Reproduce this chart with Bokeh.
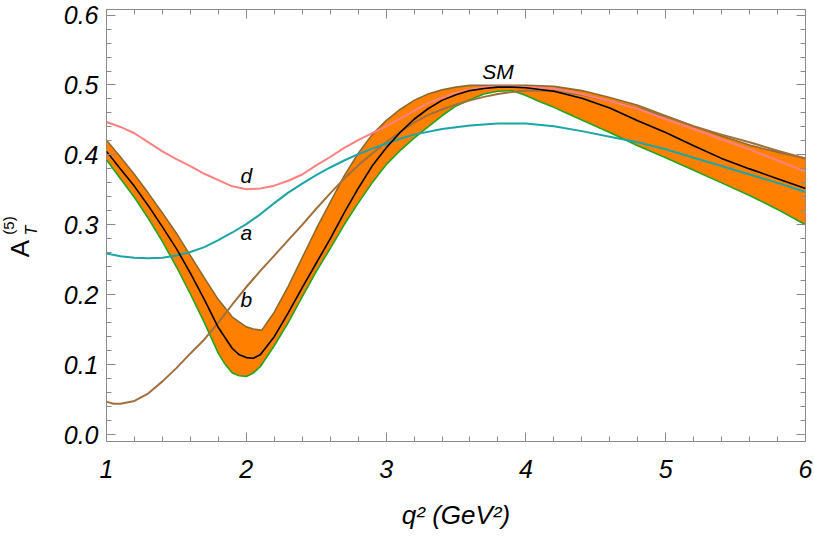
from bokeh.plotting import figure
from bokeh.layouts import row
from bokeh.models import (LinearAxis, SingleIntervalTicker, PrintfTickFormatter,
                          Label, Range1d)
from bokeh.embed import file_html
from bokeh.resources import INLINE

# ---------------- data ----------------
# SM band: upper edge
band_up_x = [1.0, 1.1, 1.2, 1.3, 1.4, 1.5, 1.6, 1.7, 1.8, 1.9, 2.0, 2.05, 2.11,
             2.2, 2.3, 2.4, 2.5, 2.6, 2.7, 2.8, 2.9, 3.0, 3.1, 3.2, 3.3, 3.4,
             3.5, 3.6, 3.8, 4.0, 4.2, 4.4, 4.6, 4.8, 5.0, 5.2, 5.4, 5.6, 5.8, 6.0]
band_up_y = [0.421, 0.397, 0.372, 0.345, 0.317, 0.288, 0.256, 0.224, 0.193, 0.168,
             0.154, 0.151, 0.149, 0.175, 0.212, 0.253, 0.294, 0.332, 0.370, 0.402,
             0.429, 0.449, 0.465, 0.478, 0.487, 0.493, 0.497, 0.4995, 0.4996, 0.4996,
             0.498, 0.492, 0.482, 0.471, 0.456, 0.441, 0.427, 0.414, 0.404, 0.395]
# SM band: lower edge
band_lo_x = [1.0, 1.1, 1.2, 1.3, 1.4, 1.5, 1.6, 1.7, 1.8, 1.85, 1.9, 1.95, 2.0,
             2.05, 2.1, 2.2, 2.3, 2.4, 2.5, 2.6, 2.7, 2.8, 2.9, 3.0, 3.1, 3.2,
             3.3, 3.4, 3.5, 3.6, 3.7, 3.8, 3.9, 4.0, 4.1, 4.2, 4.3, 4.4, 4.6,
             4.8, 5.0, 5.2, 5.4, 5.6, 5.8, 6.0]
band_lo_y = [0.393, 0.366, 0.339, 0.309, 0.276, 0.240, 0.201, 0.160, 0.116, 0.100,
             0.088, 0.084, 0.083, 0.088, 0.097, 0.127, 0.160, 0.197, 0.233, 0.266,
             0.300, 0.331, 0.360, 0.386, 0.406, 0.424, 0.440, 0.456, 0.470, 0.479,
             0.487, 0.491, 0.492, 0.485, 0.476, 0.468, 0.459, 0.450, 0.432, 0.413,
             0.396, 0.378, 0.360, 0.342, 0.322, 0.300]
# SM central value
sm_x = [1.0, 1.1, 1.2, 1.3, 1.4, 1.5, 1.6, 1.7, 1.8, 1.9, 1.95, 2.0, 2.05, 2.1,
        2.2, 2.3, 2.4, 2.5, 2.6, 2.7, 2.8, 2.9, 3.0, 3.1, 3.2, 3.3, 3.4, 3.5,
        3.6, 3.7, 3.8, 3.9, 4.0, 4.2, 4.4, 4.6, 4.8, 5.0, 5.2, 5.4, 5.6, 5.8, 6.0]
sm_y = [0.405, 0.380, 0.355, 0.327, 0.297, 0.266, 0.231, 0.193, 0.153, 0.123,
        0.114, 0.110, 0.109, 0.114, 0.140, 0.174, 0.210, 0.245, 0.280, 0.317,
        0.352, 0.384, 0.410, 0.432, 0.451, 0.466, 0.478, 0.486, 0.492, 0.495,
        0.497, 0.497, 0.496, 0.491, 0.481, 0.467, 0.449, 0.432, 0.413, 0.395,
        0.380, 0.366, 0.352]
# scenario a (teal)
a_x = [1.0, 1.1, 1.2, 1.3, 1.4, 1.5, 1.6, 1.7, 1.8, 1.9, 2.0, 2.1, 2.2, 2.3,
       2.4, 2.5, 2.6, 2.7, 2.8, 2.9, 3.0, 3.1, 3.2, 3.4, 3.6, 3.8, 4.0, 4.2,
       4.4, 4.6, 4.8, 5.0, 5.2, 5.4, 5.6, 5.8, 6.0]
a_y = [0.259, 0.255, 0.253, 0.252, 0.253, 0.256, 0.261, 0.268, 0.278, 0.289,
       0.301, 0.315, 0.331, 0.346, 0.359, 0.371, 0.382, 0.392, 0.401, 0.409,
       0.416, 0.423, 0.429, 0.437, 0.442, 0.445, 0.445, 0.441, 0.434, 0.426,
       0.418, 0.408, 0.396, 0.384, 0.372, 0.360, 0.347]
# scenario b (brown)
b_x = [1.0, 1.05, 1.1, 1.2, 1.3, 1.4, 1.5, 1.6, 1.7, 1.8, 1.9, 2.0, 2.1, 2.2,
       2.3, 2.4, 2.5, 2.6, 2.7, 2.8, 2.9, 3.0, 3.1, 3.2, 3.3, 3.4, 3.5, 3.6,
       3.7, 3.8, 3.9, 4.0, 4.2, 4.4, 4.6, 4.8, 5.0, 5.2, 5.4, 5.6, 5.8, 6.0]
b_y = [0.047, 0.044, 0.044, 0.048, 0.059, 0.076, 0.095, 0.116, 0.136, 0.160,
       0.186, 0.211, 0.234, 0.256, 0.278, 0.300, 0.323, 0.345, 0.366, 0.385,
       0.402, 0.418, 0.433, 0.446, 0.457, 0.465, 0.472, 0.478, 0.483, 0.487,
       0.490, 0.492, 0.491, 0.486, 0.477, 0.467, 0.455, 0.441, 0.429, 0.418,
       0.406, 0.395]
# scenario d (pink)
d_x = [1.0, 1.1, 1.2, 1.3, 1.4, 1.5, 1.6, 1.7, 1.8, 1.9, 2.0, 2.1, 2.2, 2.3,
       2.4, 2.5, 2.6, 2.7, 2.8, 2.9, 3.0, 3.1, 3.2, 3.3, 3.4, 3.5, 3.6, 3.7,
       3.8, 3.9, 4.0, 4.2, 4.4, 4.6, 4.8, 5.0, 5.2, 5.4, 5.6, 5.8, 6.0]
d_y = [0.447, 0.440, 0.431, 0.418, 0.405, 0.394, 0.384, 0.373, 0.364, 0.355,
       0.351, 0.352, 0.356, 0.363, 0.372, 0.385, 0.397, 0.410, 0.421, 0.431,
       0.441, 0.452, 0.463, 0.474, 0.482, 0.489, 0.494, 0.497, 0.498, 0.498,
       0.497, 0.495, 0.487, 0.477, 0.466, 0.451, 0.437, 0.422, 0.408, 0.392,
       0.376]

curve_labels = ["d", "a", "b", "SM"]
curve_label_x = [2.0, 2.0, 2.0, 3.8]
curve_label_y = [0.370, 0.289, 0.193, 0.519]

x_title = "q² (GeV²)"
y_title = ["A", "T", "(5)"]

FONT = "Liberation Sans"
GRAY = "#8a8a8a"
H = 539
STRIP_W = 40

# ---------------- main figure ----------------
p = figure(frame_width=699, frame_height=432,
           x_range=Range1d(1, 6), y_range=Range1d(-0.01, 0.608),
           output_backend="svg", toolbar_location=None,
           min_border_left=106 - STRIP_W, min_border_right=8, min_border_top=9,
           min_border_bottom=H - 9 - 432)
p.background_fill_color = "white"
p.border_fill_color = "white"
p.outline_line_color = GRAY
p.outline_line_width = 1
p.xgrid.visible = False
p.ygrid.visible = False


def style_axis(ax, ticker, fmt, show_labels):
    ax.ticker = ticker
    ax.axis_line_color = None
    ax.major_tick_line_color = GRAY
    ax.minor_tick_line_color = GRAY
    ax.major_tick_in = 9
    ax.major_tick_out = 0
    ax.minor_tick_in = 5
    ax.minor_tick_out = 0
    ax.formatter = PrintfTickFormatter(format=fmt)
    if show_labels:
        ax.major_label_text_font = FONT
        ax.major_label_text_font_style = "italic"
        ax.major_label_text_font_size = "25px"
        ax.major_label_text_color = "black"
    else:
        ax.major_label_text_font_size = "0px"
        ax.major_label_text_color = None
        ax.major_label_standoff = 0
        ax.axis_label = None


style_axis(p.xaxis[0], SingleIntervalTicker(interval=1, num_minor_ticks=5), "%d", True)
p.xaxis[0].major_label_standoff = 18
p.xaxis[0].axis_label = x_title
p.xaxis[0].axis_label_text_font = FONT
p.xaxis[0].axis_label_text_font_style = "italic"
p.xaxis[0].axis_label_text_font_size = "26px"
p.xaxis[0].axis_label_text_color = "black"
p.xaxis[0].axis_label_standoff = 19
style_axis(p.yaxis[0], SingleIntervalTicker(interval=0.1, num_minor_ticks=5), "%.1f", True)
p.yaxis[0].major_label_standoff = 8

top = LinearAxis()
right = LinearAxis()
p.add_layout(top, "above")
p.add_layout(right, "right")
style_axis(top, SingleIntervalTicker(interval=1, num_minor_ticks=5), "%d", False)
style_axis(right, SingleIntervalTicker(interval=0.1, num_minor_ticks=5), "%.1f", False)

# ---------------- band and curves ----------------
p.patch(band_up_x + band_lo_x[::-1], band_up_y + band_lo_y[::-1],
        fill_color="#FF8000", line_color=None)
p.line(band_up_x, band_up_y, line_color="#8C6A2C", line_width=1.6)
p.line(band_lo_x, band_lo_y, line_color="#1FA51F", line_width=1.6)

p.line(b_x, b_y, line_color="#A0703C", line_width=2)
p.line(a_x, a_y, line_color="#1BA6A6", line_width=2)
p.line(d_x, d_y, line_color="#FF8080", line_width=2)
p.line(sm_x, sm_y, line_color="black", line_width=1.6)

for t, lx, ly in zip(curve_labels, curve_label_x, curve_label_y):
    p.add_layout(Label(x=lx, y=ly, text=t, text_font=FONT,
                       text_font_style="italic", text_font_size="21px",
                       text_align="center", text_baseline="middle",
                       text_color="black"))

# ---------------- narrow strip holding the y title A_T^(5) ----------------
s = figure(frame_width=STRIP_W, frame_height=H, x_range=Range1d(0, 1),
           y_range=Range1d(0, 1), output_backend="svg", toolbar_location=None,
           min_border=0, min_border_left=0, min_border_right=0,
           min_border_top=0, min_border_bottom=0)
s.axis.visible = False
s.xgrid.visible = False
s.ygrid.visible = False
s.outline_line_color = None
s.border_fill_color = "white"
s.background_fill_color = "white"

# screen units: x from frame left, y from frame bottom
s.add_layout(Label(x=19, y=H - 239, x_units="screen", y_units="screen",
                   text=y_title[0], text_font=FONT, text_font_size="26px",
                   text_align="center", text_baseline="middle", angle=90,
                   angle_units="deg", text_color="black"))
s.add_layout(Label(x=30.5, y=H - 221, x_units="screen", y_units="screen",
                   text=y_title[1], text_font=FONT, text_font_style="italic",
                   text_font_size="16px", text_align="center",
                   text_baseline="middle", angle=90, angle_units="deg",
                   text_color="black"))
s.add_layout(Label(x=8, y=H - 216, x_units="screen", y_units="screen",
                   text=y_title[2], text_font=FONT, text_font_size="15px",
                   text_align="center", text_baseline="middle", angle=90,
                   angle_units="deg", text_color="black"))

layout = row(s, p, spacing=0)
open("out.html", "w").write(file_html(layout, INLINE))
